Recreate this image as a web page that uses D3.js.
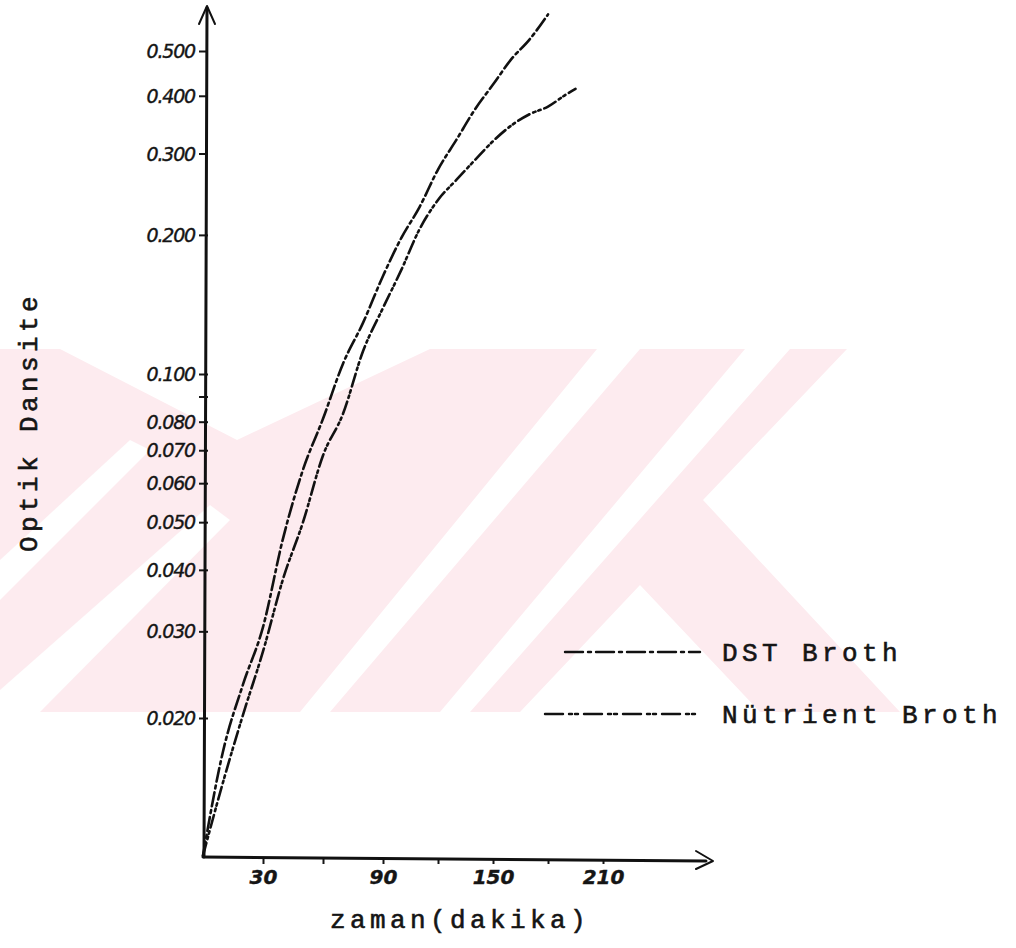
<!DOCTYPE html>
<html>
<head>
<meta charset="utf-8">
<script src="https://cdn.jsdelivr.net/npm/d3@7"></script>
<style>
  html, body { margin: 0; padding: 0; background: #ffffff; }
  svg { display: block; }
  .mono { font-family: "Liberation Mono", "DejaVu Sans Mono", monospace; font-size: 26px; letter-spacing: 4.4px; fill: #151515; stroke: #151515; stroke-width: 0.6px; }
  .hand { font-family: "DejaVu Sans", sans-serif; font-style: italic; font-size: 19px; letter-spacing: -1.2px; fill: #151515; stroke: #151515; stroke-width: 0.4px; }
</style>
</head>
<body>
<svg id="chart" width="1016" height="948"></svg>
<script>
// Optical density (log scale) against time in minutes for two growth media
const timeDST    = [0, 10, 20, 30, 40, 50, 60, 70, 80, 90, 100, 110, 120, 130, 140, 150, 160, 170, 180];
const densityDST = [0.0105, 0.0171, 0.0234, 0.0306, 0.0463, 0.0639, 0.0811, 0.1053, 0.129, 0.163,
                    0.197, 0.230, 0.277, 0.321, 0.373, 0.423, 0.480, 0.530, 0.600];

const timeNB    = [0, 10, 20, 30, 40, 50, 60, 70, 80, 90, 100, 110, 120, 130, 140, 150, 160, 170, 180, 190, 195];
const densityNB = [0.0105, 0.0148, 0.0203, 0.0273, 0.0383, 0.0500, 0.0683, 0.0830, 0.112, 0.139,
                   0.168, 0.206, 0.238, 0.263, 0.290, 0.319, 0.345, 0.365, 0.379, 0.403, 0.414];

const seriesNames = ["DST Broth", "Nütrient Broth"];

const yTickValues = [0.02, 0.03, 0.04, 0.05, 0.06, 0.07, 0.08, 0.09, 0.1, 0.2, 0.3, 0.4, 0.5];
const yTickLabels = ["0.020", "0.030", "0.040", "0.050", "0.060", "0.070", "0.080", "", "0.100", "0.200", "0.300", "0.400", "0.500"];
const xTickValues = [30, 60, 90, 120, 150, 180, 210];
const xTickLabels = ["30", "", "90", "", "150", "", "210"];

const svg = d3.select("#chart");

// ---- background mark (light pink stripes) ----
svg.append("defs").append("clipPath").attr("id", "wmclip")
  .append("rect").attr("x", 0).attr("y", 349).attr("width", 1016).attr("height", 363);
const wm = svg.append("g").attr("fill", "#fdebef").attr("clip-path", "url(#wmclip)");
const wmPolys = [
  [[0,349],[60,349],[237,440],[430,349],[597,349],[300,712],[0,712]],
  [[640,349],[745,349],[440,712],[330,712]],
  [[790,349],[847,349],[703,500],[900,712],[760,712],[640,585],[520,712],[470,712]]
];
wm.selectAll("path").data(wmPolys).join("path")
  .attr("d", p => "M" + p.map(q => q.join(",")).join("L") + "Z");
const gaps = [
  [[0,560],[0,600],[150,450],[130,440]],
  [[0,690],[0,712],[40,712],[230,520],[210,505]]
];
svg.append("g").attr("fill", "#ffffff").attr("clip-path", "url(#wmclip)")
  .selectAll("path").data(gaps).join("path")
  .attr("d", p => "M" + p.map(q => q.join(",")).join("L") + "Z");

// ---- scales ----
const x = d3.scaleLinear().domain([0, 90, 210]).range([203, 383, 603]);
const y = d3.scaleLog().domain([0.01, 0.02, 0.1, 0.5]).range([866, 718, 374, 51]);

const originX = 205, originY = 857;

// ---- axes ----
const yAxis = svg.append("g")
  .attr("transform", `translate(${originX},0)`)
  .call(d3.axisLeft(y).tickValues(yTickValues).tickFormat((d, i) => yTickLabels[i]).tickSize(6).tickPadding(4));
yAxis.select(".domain").remove();
yAxis.selectAll(".tick line").attr("x1", 3).attr("stroke", "#151515").attr("stroke-width", 2);
yAxis.selectAll(".tick text").attr("class", "hand").attr("dy", "0.35em");

const xAxis = svg.append("g")
  .attr("transform", `translate(0,${originY})`)
  .call(d3.axisBottom(x).tickValues(xTickValues).tickFormat((d, i) => xTickLabels[i]).tickSize(7).tickPadding(6));
xAxis.select(".domain").remove();
xAxis.selectAll(".tick line").attr("y1", 2).attr("stroke", "#151515").attr("stroke-width", 2);
xAxis.selectAll(".tick text").attr("class", "hand")
  .style("font-size", "20px").style("font-weight", "bold").style("letter-spacing", "0px");

// axis lines with arrow heads
const axisInk = svg.append("g").attr("fill", "none").attr("stroke", "#111")
  .attr("stroke-width", 3).attr("stroke-linecap", "round").attr("stroke-linejoin", "round");
axisInk.append("path").attr("d", `M${originX - 1},${originY} L${originX + 2},8`);
axisInk.append("path").attr("d", `M${originX - 6},24 L${originX + 2},6 L${originX + 10},24`).attr("stroke-width", 2);
axisInk.append("path").attr("d", `M${originX - 2},${originY} L706,${originY + 4}`);
axisInk.append("path").attr("d", `M696,851 L713,${originY + 4} L696,869`).attr("stroke-width", 2);

// ---- growth curves ----
const dashDST = "14,4,3,4";
const dashNB = "13,4,2.5,3,2.5,4";
const line = d3.line().x(d => x(d.t)).y(d => y(d.v)).curve(d3.curveMonotoneX);
const dst = timeDST.map((t, i) => ({ t, v: densityDST[i] }));
const nb = timeNB.map((t, i) => ({ t, v: densityNB[i] }));

const curves = svg.append("g").attr("fill", "none").attr("stroke", "#111")
  .attr("stroke-width", 2.6).attr("stroke-linecap", "round");
curves.append("path").datum(dst).attr("d", line).attr("stroke-dasharray", dashDST);
curves.append("path").datum(nb).attr("d", line).attr("stroke-dasharray", dashNB);

// ---- legend ----
const legend = svg.append("g");
const legendRows = [
  { name: seriesNames[0], dash: "18,5,3,5", x0: 565, x1: 700, yy: 652 },
  { name: seriesNames[1], dash: "18,6,3,3,3,6", x0: 545, x1: 697, yy: 714 }
];
legendRows.forEach(r => {
  legend.append("line").attr("x1", r.x0).attr("x2", r.x1).attr("y1", r.yy).attr("y2", r.yy)
    .attr("stroke", "#111").attr("stroke-width", 2.4).attr("stroke-dasharray", r.dash).attr("stroke-linecap", "round");
  legend.append("text").attr("class", "mono").attr("x", 722).attr("y", r.yy + 9).text(r.name);
});

// ---- axis titles ----
svg.append("text").attr("class", "mono").attr("text-anchor", "middle")
  .attr("x", 460).attr("y", 928).text("zaman(dakika)");
svg.append("text").attr("class", "mono").attr("text-anchor", "middle")
  .attr("transform", "translate(37,422) rotate(-90)").text("Optik Dansite");
</script>
</body>
</html>
